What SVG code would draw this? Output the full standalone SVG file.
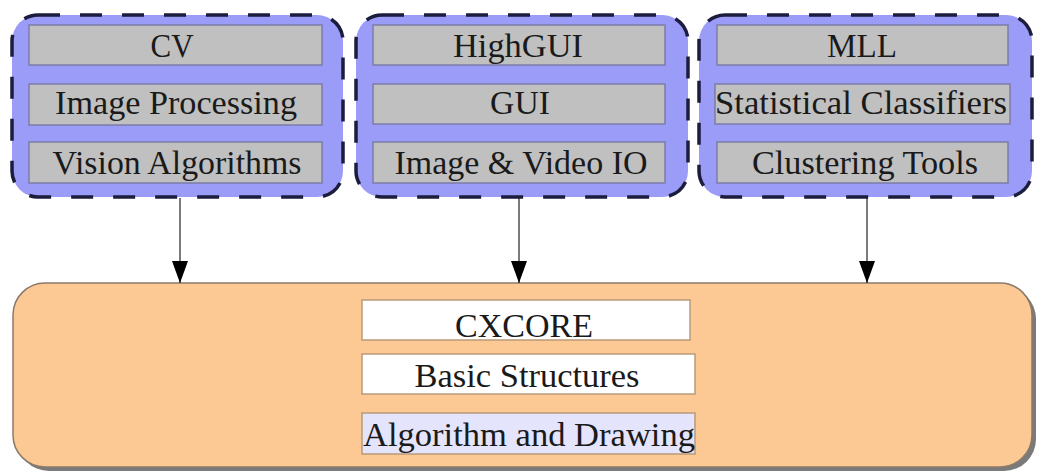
<svg xmlns="http://www.w3.org/2000/svg" width="1038" height="475" viewBox="0 0 1038 475">
<defs>
<style>
.grp{fill:#9b9bf8;stroke:#1c1c3c;stroke-width:3.5;stroke-dasharray:22 20}
.item{fill:#c0c0c0;stroke:#7c7ca8;stroke-width:1.5}
.core{fill:#ffffff;stroke:#b89a7a;stroke-width:1.5}
.algo{fill:#e4e4fc;stroke:#b89a7a;stroke-width:1.5}
.t{font-family:"Liberation Serif","Times New Roman",serif;font-size:33px;fill:#1a1a1a;text-anchor:middle}
.edge{stroke:#222;stroke-width:1.2;fill:none}
</style>
<marker id="ah" markerWidth="22" markerHeight="16" refX="22" refY="8" orient="auto" markerUnits="userSpaceOnUse" viewBox="0 0 22 16">
<path d="M0,0 L22,8 L0,16 Z" fill="#000"/>
</marker>
</defs>
<rect width="1038" height="475" fill="#ffffff"/>

<g id="cxcore">
<rect x="17" y="287" width="1019" height="184" rx="32" fill="#7a7a7a"/>
<rect x="13" y="283" width="1019" height="184" rx="32" fill="#fcc893" stroke="#8a7a6a" stroke-width="1.5"/>
<rect class="core" x="362" y="300" width="328" height="40"/>
<text class="t" x="524" y="337" textLength="138" lengthAdjust="spacingAndGlyphs">CXCORE</text>
<rect class="core" x="362" y="354" width="333" height="40"/>
<text class="t" x="527" y="387" textLength="225" lengthAdjust="spacingAndGlyphs">Basic Structures</text>
<rect class="algo" x="362" y="413" width="333" height="41"/>
<text class="t" x="529" y="446" textLength="332" lengthAdjust="spacingAndGlyphs">Algorithm and Drawing</text>
</g>

<g id="cv">
<rect class="grp" x="12" y="15" width="331" height="182" rx="26"/>
<rect class="item" x="29" y="25" width="293" height="40"/>
<text class="t" x="172" y="57" textLength="43" lengthAdjust="spacingAndGlyphs">CV</text>
<rect class="item" x="29" y="84" width="293" height="41"/>
<text class="t" x="176" y="114" textLength="242" lengthAdjust="spacingAndGlyphs">Image Processing</text>
<rect class="item" x="29" y="142" width="293" height="41"/>
<text class="t" x="177" y="174" textLength="249" lengthAdjust="spacingAndGlyphs">Vision Algorithms</text>
</g>

<g id="highgui">
<rect class="grp" x="356" y="15" width="332" height="182" rx="26"/>
<rect class="item" x="373" y="25" width="292" height="40"/>
<text class="t" x="518" y="57" textLength="130" lengthAdjust="spacingAndGlyphs">HighGUI</text>
<rect class="item" x="373" y="84" width="292" height="40"/>
<text class="t" x="520" y="114" textLength="60" lengthAdjust="spacingAndGlyphs">GUI</text>
<rect class="item" x="373" y="142" width="292" height="41"/>
<text class="t" x="521" y="174" textLength="253" lengthAdjust="spacingAndGlyphs">Image &amp; Video IO</text>
</g>

<g id="mll">
<rect class="grp" x="699" y="15" width="333" height="182" rx="26"/>
<rect class="item" x="717" y="25" width="291" height="40"/>
<text class="t" x="862" y="57" textLength="70" lengthAdjust="spacingAndGlyphs">MLL</text>
<rect class="item" x="715" y="84" width="295" height="40"/>
<text class="t" x="861" y="114" textLength="292" lengthAdjust="spacingAndGlyphs">Statistical Classifiers</text>
<rect class="item" x="717" y="142" width="291" height="41"/>
<text class="t" x="865" y="174" textLength="226" lengthAdjust="spacingAndGlyphs">Clustering Tools</text>
</g>

<g id="connectors">
<line class="edge" x1="180" y1="198" x2="180" y2="283" marker-end="url(#ah)"/>
<line class="edge" x1="519" y1="198" x2="519" y2="283" marker-end="url(#ah)"/>
<line class="edge" x1="867" y1="198" x2="867" y2="283" marker-end="url(#ah)"/>
</g>
</svg>
